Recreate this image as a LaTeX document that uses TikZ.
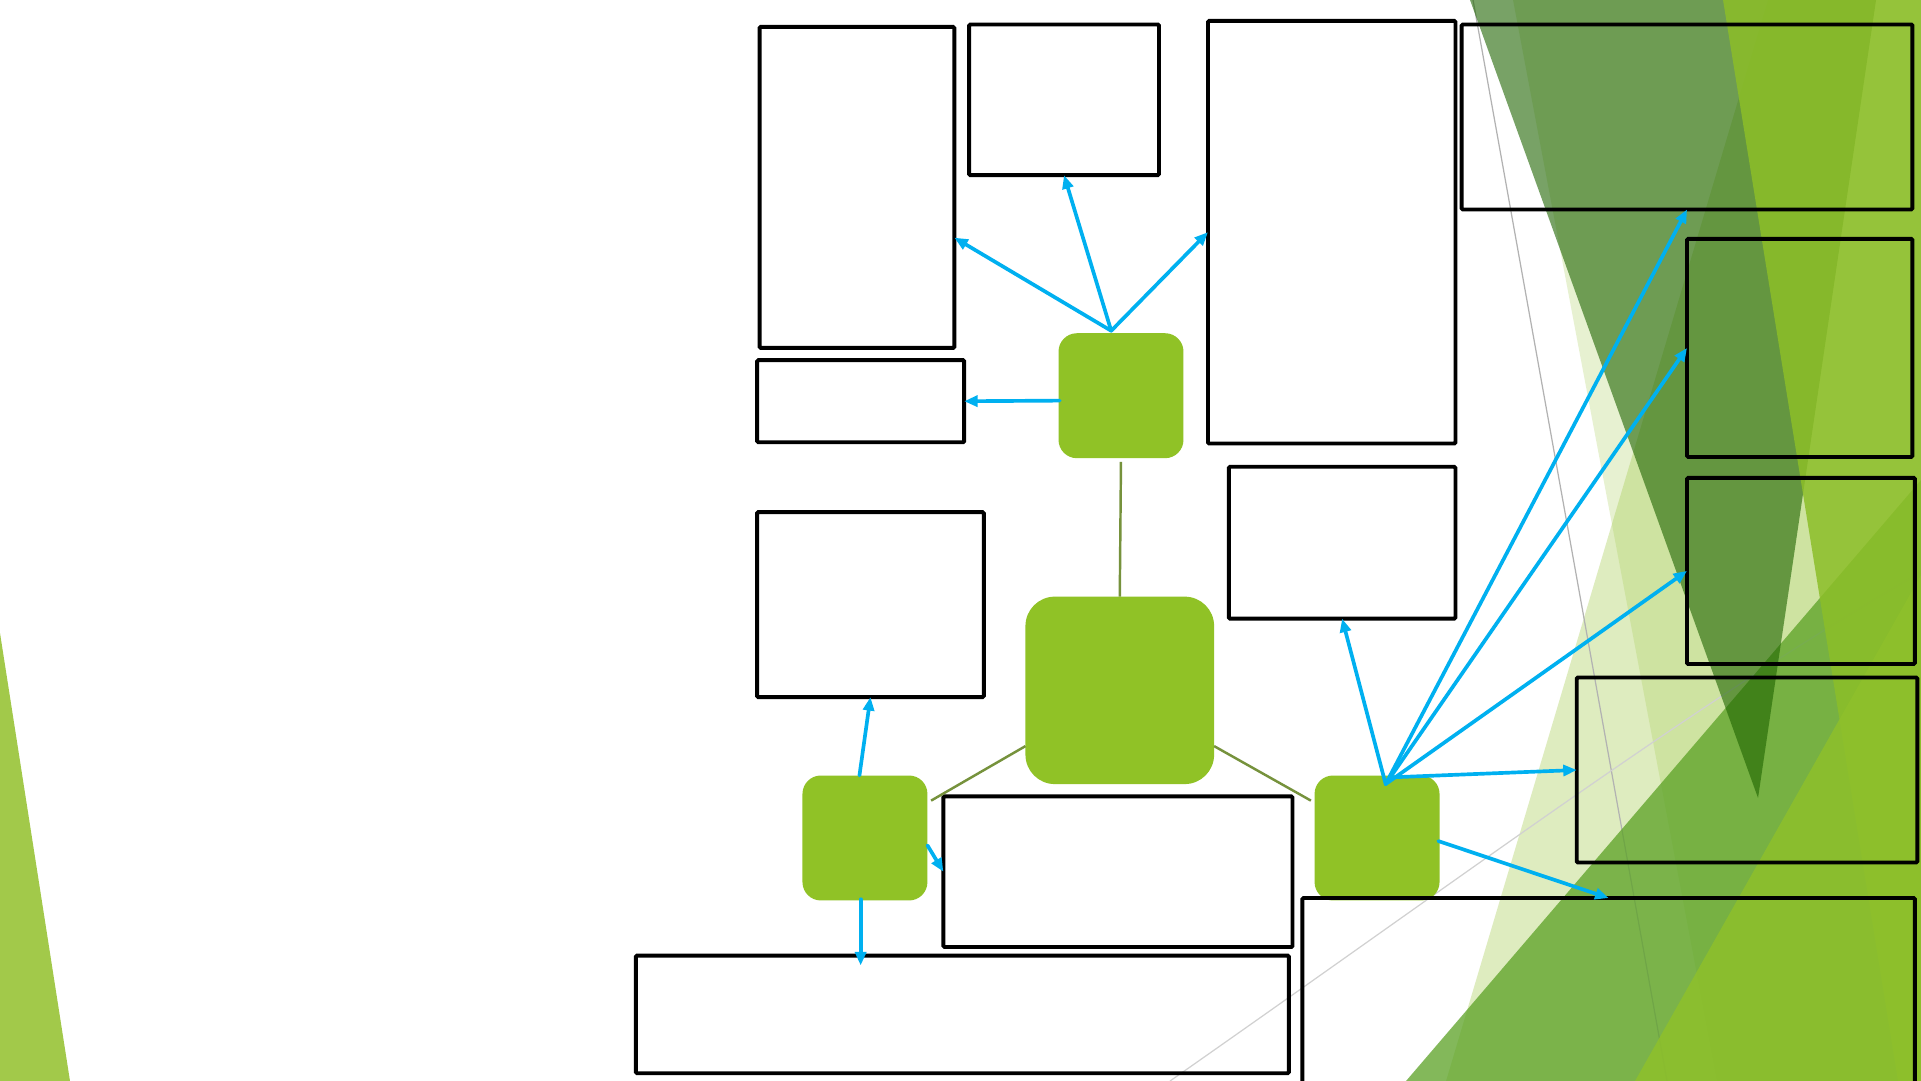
\documentclass[tikz,border=0pt]{standalone}
\usetikzlibrary{arrows.meta,calc}
\definecolor{nodegreen}{HTML}{90C226}
\definecolor{arrowblue}{HTML}{00B0F0}
\definecolor{olivelink}{HTML}{76923C}
\definecolor{facetlight}{RGB}{162,201,74}
\definecolor{facetdark}{RGB}{30,100,0}
\definecolor{facetmid}{RGB}{90,161,36}
\definecolor{facetlime}{RGB}{140,190,40}
\definecolor{facetlimeb}{RGB}{142,192,43}
\begin{document}
\begin{tikzpicture}[x=1pt,y=-1pt,
  box/.style={draw=black,line width=3.2pt,rounded corners=1pt,inner sep=0pt,outer sep=0pt,anchor=north west},
  hub/.style={fill=nodegreen,draw=none,inner sep=0pt,outer sep=0pt,anchor=north west,rounded corners=15pt},
  link/.style={draw=arrowblue,line width=3pt,line cap=round,-{Triangle[length=11pt,width=9pt]}},
  tie/.style={draw=olivelink,line width=2pt}]
\clip (0,0) rectangle (1568,882);
\fill[white] (0,0) rectangle (1568,882);
% background facets (full-size coordinates)
\begin{scope}[scale=0.81626]
  \fill[facetlight] (0,633) -- (70,1081) -- (0,1081) -- cycle;
  \fill[facetlight,opacity=0.35] (1768,0) -- (1921,0) -- (1921,1081) -- (1446,1081) -- cycle;
  \fill[facetlight,opacity=0.25] (1513,0) -- (1921,0) -- (1921,1081) -- (1717,1081) -- cycle;
  \draw[black!30,line width=1pt] (1473,0) -- (1667,1081);
  \draw[black!18,line width=1pt] (1170,1081) .. controls (1500,850) and (1700,700) .. (1921,572);
  \fill[facetmid,opacity=0.75] (1406,1081) -- (1921,480) -- (1921,1081) -- cycle;
  \fill[facetdark,opacity=0.6] (1470,0) -- (1876,0) -- (1758,798) -- cycle;
  \fill[facetlime,opacity=0.85] (1723,0) -- (1921,0) -- (1921,1081) -- (1898,1081) -- cycle;
  \fill[facetlimeb,opacity=0.85] (1635,1081) -- (1921,575) -- (1921,1081) -- cycle;
\end{scope}
% green hubs
\node[hub,minimum width=102pt,minimum height=102pt] (P) at (864,272) {};
\node[hub,minimum width=154pt,minimum height=153pt,rounded corners=24pt] (Q) at (837,487) {};
\node[hub,minimum width=102pt,minimum height=102pt] (R) at (655,633) {};
\node[hub,minimum width=102pt,minimum height=102pt] (S) at (1073,633) {};
% empty boxes
\node[box,minimum width=159pt,minimum height=262pt] (A) at (620,22) {};
\node[box,minimum width=155pt,minimum height=123pt] (B) at (791,20) {};
\node[box,minimum width=202pt,minimum height=345pt] (C) at (986,17) {};
\node[box,minimum width=368pt,minimum height=151pt] (D) at (1193,20) {};
\node[box,minimum width=169pt,minimum height=67pt] (E) at (618,294) {};
\node[box,minimum width=185pt,minimum height=151pt] (F) at (618,418) {};
\node[box,minimum width=185pt,minimum height=124pt] (G) at (1003,381) {};
\node[box,minimum width=184pt,minimum height=178pt] (H) at (1377,195) {};
\node[box,minimum width=186pt,minimum height=152pt] (I) at (1377,390) {};
\node[box,minimum width=278pt,minimum height=151pt] (J) at (1287,553) {};
\node[box,minimum width=285pt,minimum height=123pt] (K) at (770,650) {};
\node[box,minimum width=533pt,minimum height=96pt] (L) at (519,780) {};
\node[box,minimum width=500pt,minimum height=170pt] (M) at (1063,733) {};
% olive ties
\draw[tie,shorten <=3pt] (P.south) -- (Q.north);
\draw[tie] ($(Q.west)+(0,45.5)$) -- ($(R.north east)+(3,20.5)$);
\draw[tie] ($(Q.east)+(0,45.5)$) -- ($(S.north west)+(-3,20.5)$);
% blue arrows
\coordinate (Proot) at ($(P.north)+(-8,-2)$);
\draw[link] (Proot) -- ([yshift=-41pt]A.east);
\draw[link] (Proot) -- (B.south);
\draw[link] (Proot) -- (C.west);
\draw[link] ($(P.west)+(1,4)$) -- (E.east);
\draw[link] ($(R.north)+(-4.5,0)$) -- (F.south);
\draw[link] ($(R.east)+(0,6)$) -- (K.west);
\draw[link] ($(R.south)+(-3.5,-1)$) -- ($(L.north)+(-83,8)$);
\coordinate (Sroot) at ($(S.north)+(7,7)$);
\draw[link] (Sroot) -- (G.south);
\draw[link] (Sroot) -- (D.south);
\draw[link] (Sroot) -- (H.west);
\draw[link] (Sroot) -- (I.west);
\draw[link] ($(S.north)+(11.5,1.5)$) -- (J.west);
\draw[link] ($(S.east)+(-1,2.5)$) -- (M.north);
\end{tikzpicture}
\end{document}
